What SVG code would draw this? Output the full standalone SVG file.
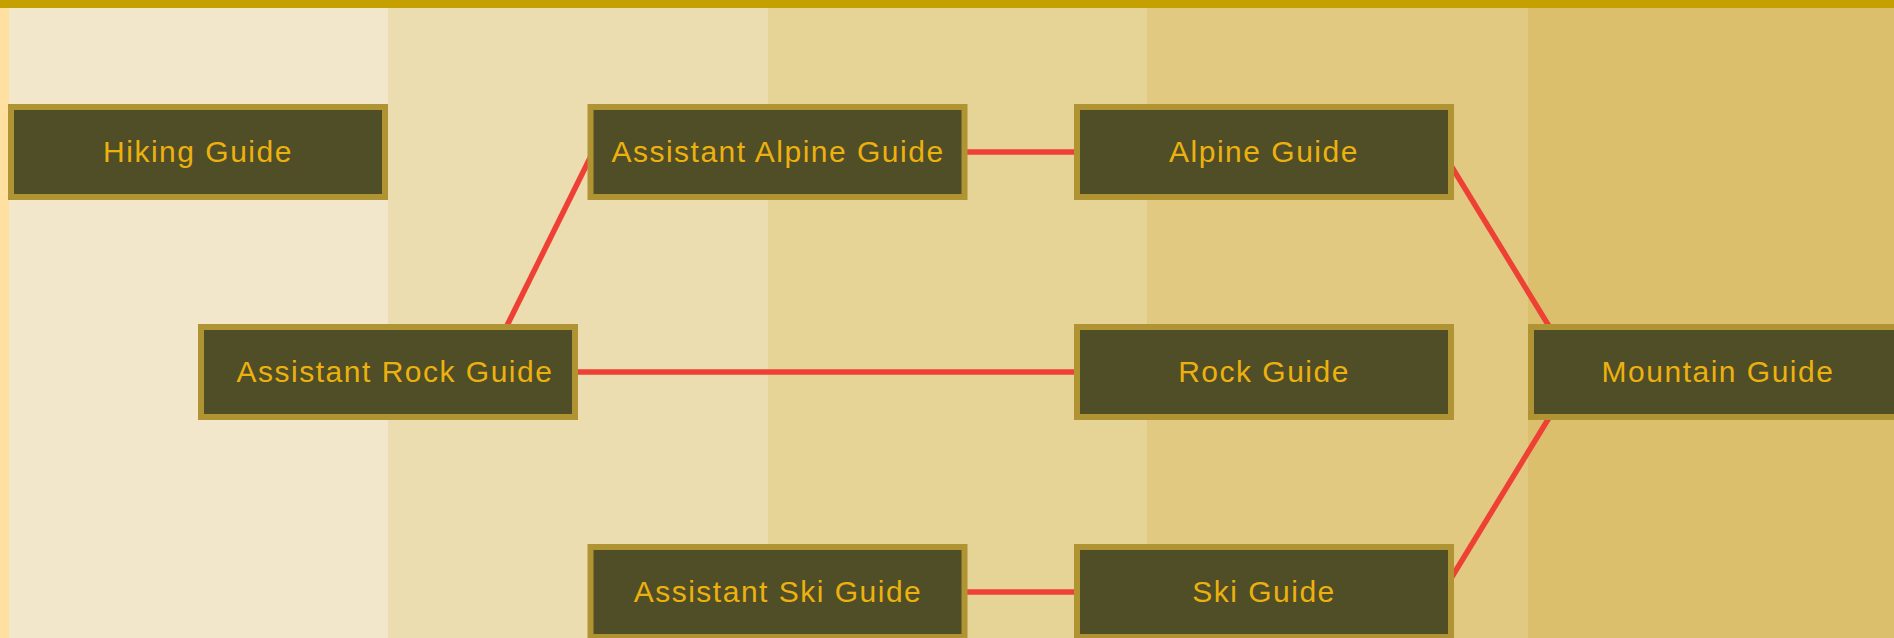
<svg xmlns="http://www.w3.org/2000/svg" width="1894" height="638" viewBox="0 0 1894 638">
<style>
.node rect{fill:#504E26;stroke:#B09434;stroke-width:6}
.node text{font-family:"Liberation Sans",Arial,sans-serif;font-size:30px;letter-spacing:1.5px;fill:#EDB10F;text-anchor:middle}
.conn line{stroke:#EE4035;stroke-width:5.5;fill:none}
</style>
<g id="background">
<rect x="0" y="0" width="1894" height="638" fill="#F3E8CC"/>
<rect x="9" y="0" width="379" height="638" fill="#F2E7CB"/>
<rect x="388" y="0" width="380" height="638" fill="#ECDDB0"/>
<rect x="768" y="0" width="379" height="638" fill="#E6D396"/>
<rect x="1147" y="0" width="381" height="638" fill="#E1C981"/>
<rect x="1528" y="0" width="366" height="638" fill="#DBBF6C"/>
<rect x="0" y="0" width="9" height="638" fill="#FFE0A0"/>
<rect x="0" y="0" width="1894" height="8" fill="#C4A000"/>
</g>
<g id="connectors" class="conn">
<line x1="484" y1="372" x2="593" y2="152"/>
<line x1="578" y1="372" x2="1074" y2="372"/>
<line x1="967" y1="152" x2="1074" y2="152"/>
<line x1="967" y1="592" x2="1074" y2="592"/>
<line x1="1442.7" y1="152" x2="1577" y2="372"/>
<line x1="1442.7" y1="592" x2="1577" y2="372"/>
</g>
<g id="hiking-guide" class="node"><rect x="11" y="107" width="374" height="90"/><text x="198" y="162">Hiking Guide</text></g>
<g id="assistant-rock-guide" class="node"><rect x="201" y="327" width="374" height="90"/><text x="395" y="382">Assistant Rock Guide</text></g>
<g id="assistant-alpine-guide" class="node"><rect x="590.5" y="107" width="374" height="90"/><text x="778" y="162">Assistant Alpine Guide</text></g>
<g id="alpine-guide" class="node"><rect x="1077" y="107" width="374" height="90"/><text x="1264" y="162">Alpine Guide</text></g>
<g id="rock-guide" class="node"><rect x="1077" y="327" width="374" height="90"/><text x="1264" y="382">Rock Guide</text></g>
<g id="mountain-guide" class="node"><rect x="1531" y="327" width="374" height="90"/><text x="1718" y="382">Mountain Guide</text></g>
<g id="assistant-ski-guide" class="node"><rect x="590.5" y="547" width="374" height="90"/><text x="778" y="602">Assistant Ski Guide</text></g>
<g id="ski-guide" class="node"><rect x="1077" y="547" width="374" height="90"/><text x="1264" y="602">Ski Guide</text></g>
</svg>
